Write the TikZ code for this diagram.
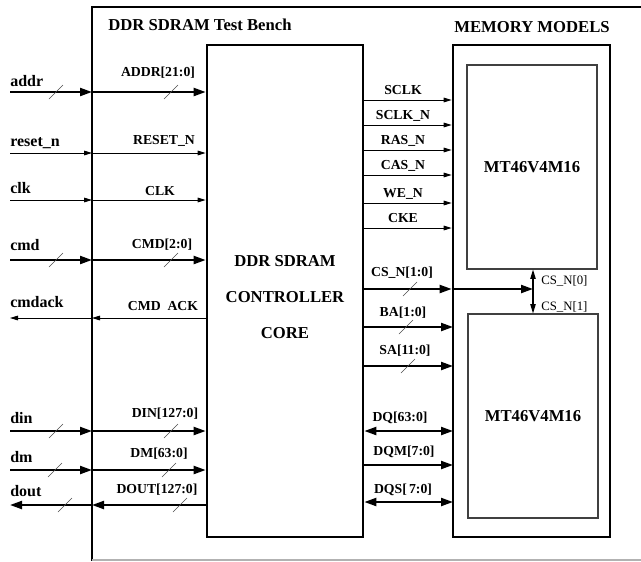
\documentclass[tikz,border=0pt]{standalone}
\usepackage{fontspec}
\setmainfont{Liberation Serif}
\usetikzlibrary{arrows.meta}

% bus-width mark across a line
\newcommand{\busmark}[2]{\draw[tick] (#1-7,#2+7) -- (#1+7,#2-7);}

\begin{document}
\begin{tikzpicture}[
    x=0.75pt, y=-0.75pt,
    blk/.style={draw, line width=2pt, inner sep=0pt},
    mdl/.style={draw=black!75, line width=0.8pt, inner sep=0pt,
      minimum width=97.5pt, minimum height=153pt,
      font=\fontsize{12.5}{15}\selectfont\bfseries},
    ttl/.style={font=\fontsize{12.5}{15}\selectfont\bfseries, inner sep=0pt},
    pin/.style={font=\fontsize{12}{14}\selectfont\bfseries, anchor=base west, inner sep=0pt},
    sig/.style={font=\fontsize{10.3}{12}\selectfont\bfseries, anchor=base, inner sep=0pt},
    csl/.style={font=\fontsize{9.6}{11}\selectfont, anchor=base west, inner sep=0pt},
    bus/.style={line width=1.6pt, >={Triangle[length=9pt,width=6pt]}},
    wire/.style={line width=0.7pt, >={Triangle[length=6pt,width=3.5pt]}},
    csarr/.style={line width=0.8pt, ->, >={Triangle[length=7pt,width=4pt]}},
    tick/.style={line width=0.5pt, draw=black!70}]

  \useasboundingbox (0,0) rectangle (641,561);

  % ---- test bench frame ----
  \coordinate (tbNE) at (641,7);
  \coordinate (tbNW) at (92,7);
  \coordinate (tbSW) at (92,561);
  \coordinate (tbBL) at (92,560);
  \coordinate (tbBR) at (641,560);
  \draw[line width=2pt] (tbNE) -- (tbNW) -- (tbSW);
  \draw[black!30, line width=0.8pt] (tbBL) -- (tbBR);
  \node[ttl] (tbttl) at (200,25) {DDR SDRAM Test Bench};

  % ---- controller core ----
  \node[blk, minimum width=117pt, minimum height=369pt] (ctrl) at (285,291) {};
  \node[ttl, align=center, font=\fontsize{12.5}{27}\selectfont\bfseries] (ctrlttl)
    at (285,297) {DDR SDRAM\\CONTROLLER\\CORE};

  % ---- memory models ----
  \node[ttl] (memttl) at (532,27) {MEMORY MODELS};
  \node[blk, minimum width=117.75pt, minimum height=369pt] (mem) at (531.5,291) {};
  \node[mdl] (memA) at (532,167) {MT46V4M16};
  \node[mdl] (memB) at (533,416) {MT46V4M16};

  % ---- host side: inputs ----
  \coordinate (addr) at (10,92);
  \draw[bus,->] (addr) -- (addr -| tbNW);
  \draw[bus,->] (addr -| tbNW) -- (addr -| ctrl.west);
  \busmark{56}{92}\busmark{171}{92}
  \node[pin] (addrl) at (10,86) {addr};
  \node[sig] (addrs) at (158,76) {ADDR[21:0]};

  \coordinate (rst) at (10,153);
  \draw[wire,->] (rst) -- (rst -| tbNW);
  \draw[wire,->] (rst -| tbNW) -- (rst -| ctrl.west);
  \node[pin] (rstl) at (10,146) {reset\_n};
  \node[sig] (rsts) at (164,144) {RESET\_N};

  \coordinate (clk) at (10,200);
  \draw[wire,->] (clk) -- (clk -| tbNW);
  \draw[wire,->] (clk -| tbNW) -- (clk -| ctrl.west);
  \node[pin] (clkl) at (10,193) {clk};
  \node[sig] (clks) at (160,195) {CLK};

  \coordinate (cmd) at (10,260);
  \draw[bus,->] (cmd) -- (cmd -| tbNW);
  \draw[bus,->] (cmd -| tbNW) -- (cmd -| ctrl.west);
  \busmark{56}{260}\busmark{171}{260}
  \node[pin] (cmdl) at (10,250) {cmd};
  \node[sig] (cmds) at (162,248) {CMD[2:0]};

  % ---- host side: outputs ----
  \coordinate (ack) at (10,318);
  \draw[wire,->] (ack -| ctrl.west) -- (ack -| tbNW);
  \draw[wire,->] (ack -| tbNW) -- (ack);
  \node[pin] (ackl) at (10,307) {cmdack};
  \node[sig] (acks) at (163,310) {CMD\ \ ACK};

  \coordinate (din) at (10,431);
  \draw[bus,->] (din) -- (din -| tbNW);
  \draw[bus,->] (din -| tbNW) -- (din -| ctrl.west);
  \busmark{56}{431}\busmark{171}{431}
  \node[pin] (dinl) at (10,423) {din};
  \node[sig] (dins) at (165,417) {DIN[127:0]};

  \coordinate (dm) at (10,470);
  \draw[bus,->] (dm) -- (dm -| tbNW);
  \draw[bus,->] (dm -| tbNW) -- (dm -| ctrl.west);
  \busmark{55}{470}\busmark{169}{470}
  \node[pin] (dml) at (10,462) {dm};
  \node[sig] (dms) at (159,457) {DM[63:0]};

  \coordinate (dout) at (10,505);
  \draw[bus,->] (dout -| ctrl.west) -- (dout -| tbNW);
  \draw[bus,->] (dout -| tbNW) -- (dout);
  \busmark{65}{505}\busmark{180}{505}
  \node[pin] (doutl) at (10,496) {dout};
  \node[sig] (douts) at (157,493) {DOUT[127:0]};

  % ---- memory side: control lines ----
  \foreach \nm/\yy [count=\i] in {SCLK/100, SCLK\_N/125, RAS\_N/150,
      CAS\_N/175, WE\_N/203, CKE/228} {
    \draw[wire,->] (ctrl.east |- 0,\yy) -- (mem.west |- 0,\yy);
    \node[sig] (ctl\i) at (403,\yy-6) {\nm};
  }

  % ---- chip selects ----
  \coordinate (csn) at (533,289);
  \draw[bus,->] (ctrl.east |- csn) -- (mem.west |- csn);
  \draw[bus,->] (mem.west |- csn) -- (csn);
  \busmark{410}{289}
  \node[sig] (csns) at (402,276) {CS\_N[1:0]};
  \draw[csarr] (csn) -- (csn |- memA.south);
  \draw[csarr] (csn) -- (csn |- memB.north);
  \node[csl] (cs0) at (541,284) {CS\_N[0]};
  \node[csl] (cs1) at (541,310) {CS\_N[1]};

  % ---- address lines ----
  \coordinate (ba) at (453,327);
  \draw[bus,->] (ctrl.east |- ba) -- (ba);
  \busmark{406}{327}
  \node[sig] (bas) at (403,316) {BA[1:0]};

  \coordinate (sa) at (453,366);
  \draw[bus,->] (ctrl.east |- sa) -- (sa);
  \busmark{408}{366}
  \node[sig] (sas) at (405,354) {SA[11:0]};

  % ---- data lines ----
  \coordinate (dq) at (453,431);
  \draw[bus,<->] (ctrl.east |- dq) -- (dq);
  \node[sig] (dqs) at (400,421) {DQ[63:0]};

  \coordinate (dqm) at (453,465);
  \draw[bus,->] (ctrl.east |- dqm) -- (dqm);
  \node[sig] (dqms) at (404,455) {DQM[7:0]};

  \coordinate (dqst) at (453,502);
  \draw[bus,<->] (ctrl.east |- dqst) -- (dqst);
  \node[sig] (dqss) at (403,493) {DQS[\,7:0]};
\end{tikzpicture}
\end{document}
